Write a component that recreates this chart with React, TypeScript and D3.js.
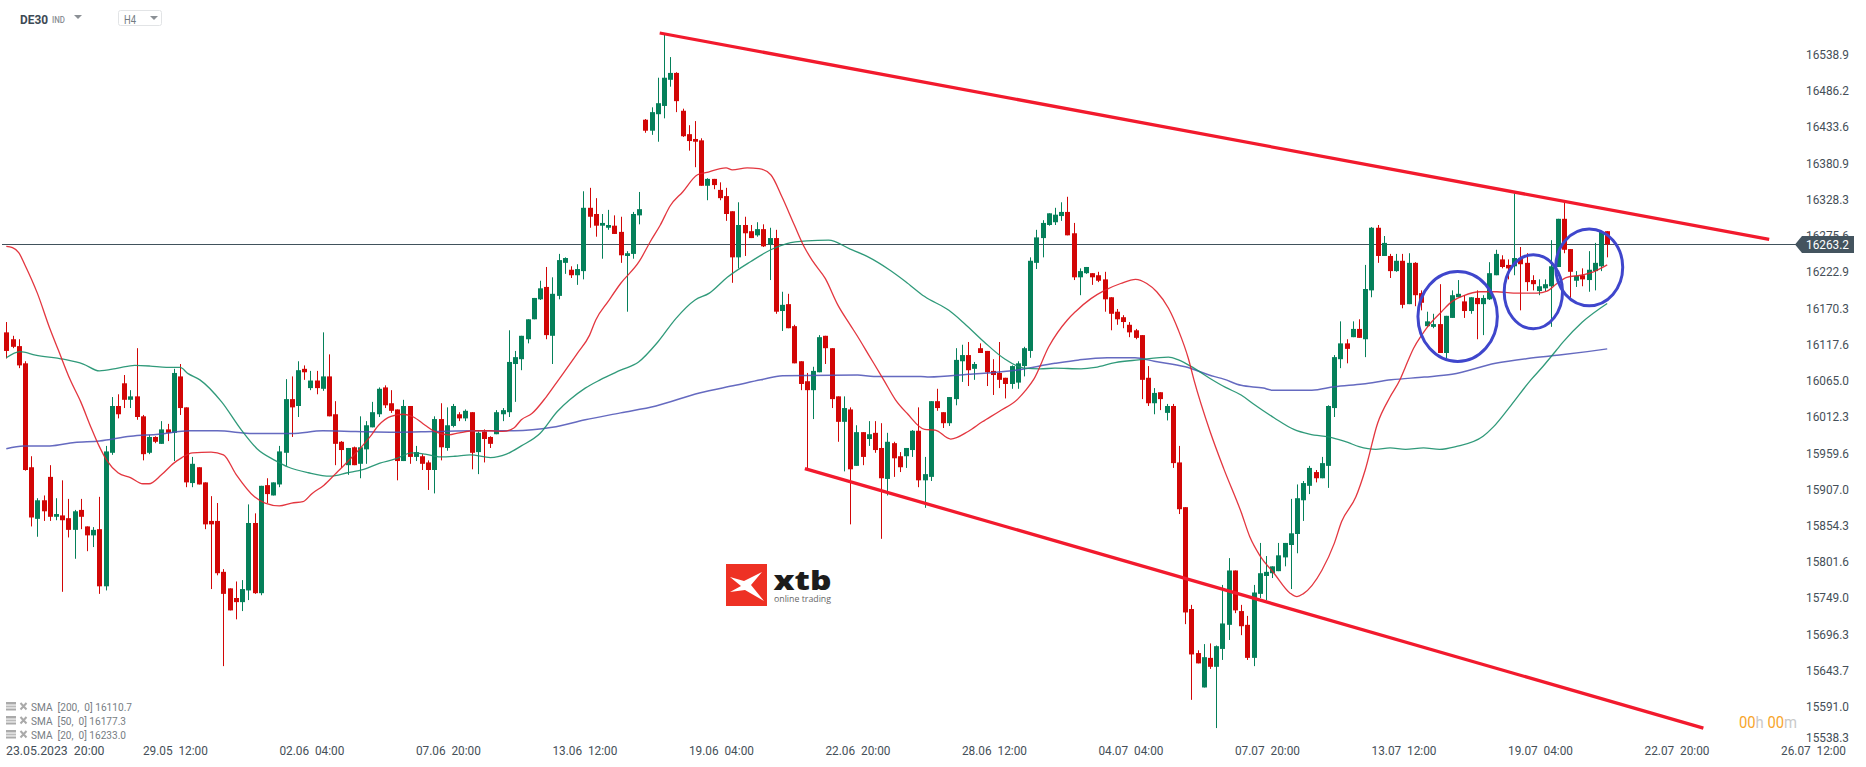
import React from 'react';
import * as d3 from 'd3';

const WIDTH = 1866;
const HEIGHT = 767;

// candle values
const directions =
  'rrrrrgrrgr' + 'rgrrgrggrr' + 'grrgrgrgrr' + 'grrrrrrrgg' + 'rgrgggrgrg' + 'rgrrrgrggg' +
  'grrrgrgrrg' + 'rggrgrgrrg' + 'gggggggrgg' + 'grggrrggrr' + 'gggrggggrr' + 'rrrgrrrrgr' +
  'rgrgrgrrrr' + 'ggrrrgrgrg' + 'rrgrrggrgg' + 'rrgggrgrrr' + 'rrgggggggg' + 'grrggrrrrr' +
  'rrrrrgrgrr' + 'rrrgrgggrr' + 'rggggggggg' + 'grggggrgrg' + 'grgrgrgrrg' + 'grgggrgrgg' +
  'grrgrrrggg' + 'grrgrgggr';

const highs = [
  16150,16130,16125,16093,15955,15894,15898,15942,15894,15920,
  15893,15877,15893,15853,15852,15896,15970,16041,16045,16073,
  16051,16112,16015,15986,15984,16006,16002,16082,16089,16026,
  15954,15939,15917,15897,15887,15791,15763,15773,15775,15885,
  15872,15912,15923,15917,15970,16067,16071,16093,16087,16079,
  16079,16135,16103,16035,15977,15967,15969,16013,16006,16034,
  16055,16058,16051,16023,16037,16028,15970,15958,15949,16013,
  16032,16026,16031,16019,16023,16019,15991,15994,15984,16022,
  16025,16138,16108,16130,16154,16185,16210,16230,16215,16249,
  16244,16231,16234,16340,16345,16330,16307,16313,16305,16303,
  16253,16310,16339,16445,16462,16505,16570,16535,16513,16460,
  16436,16442,16417,16359,16358,16353,16345,16311,16324,16303,
  16291,16295,16292,16287,16284,16194,16191,16146,16093,16076,
  16085,16131,16130,16112,16042,16042,16026,16000,15990,16006,
  16006,16003,15989,15976,15961,15967,15993,16026,15954,16035,
  16053,16019,16041,16112,16117,16121,16092,16119,16108,16096,
  16121,16069,16087,16093,16114,16244,16284,16298,16308,16316,
  16324,16332,16294,16228,16230,16221,16223,16223,16186,16169,
  16160,16150,16140,16131,16086,16054,16048,16031,16031,15970,
  15881,15739,15673,15682,15683,15680,15768,15807,15789,15739,
  15723,15768,15829,15810,15795,15829,15829,15893,15914,15919,
  15941,15935,15954,16029,16102,16151,16125,16151,16154,16233,
  16288,16291,16275,16249,16249,16249,16250,16237,16196,16165,
  16162,16205,16159,16196,16211,16189,16186,16196,16189,16237,
  16255,16247,16241,16337,16259,16250,16218,16212,16212,16269,
  16300,16325,16256,16224,16228,16253,16265,16281,16282,
];

const lows = [
  16097,16112,16083,15934,15853,15838,15861,15861,15862,15758,
  15837,15806,15849,15817,15823,15755,15760,15957,16010,16025,
  16025,16008,15949,15958,15974,15973,15977,15948,16015,15910,
  15910,15914,15849,15762,15782,15650,15731,15718,15730,15746,
  15755,15753,15887,15898,15910,15941,15983,16012,16066,16051,
  16045,16050,16013,15942,15938,15928,15942,15923,15944,15997,
  16012,16025,16018,15920,15948,15944,15948,15935,15906,15901,
  15949,15963,15997,16006,16006,15936,15929,15946,15967,15987,
  16006,16012,16034,16080,16119,16154,16182,16125,16089,16183,
  16220,16214,16204,16212,16287,16274,16242,16284,16278,16236,
  16165,16242,16292,16425,16422,16412,16446,16492,16455,16419,
  16399,16375,16348,16327,16343,16327,16297,16207,16228,16246,
  16272,16274,16259,16211,16162,16137,16141,16090,16051,15937,
  16009,16077,16089,16025,15976,15933,15856,15941,15942,15970,
  15960,15835,15898,15925,15932,15938,15954,15910,15880,15919,
  16021,15996,15999,16029,16063,16057,16066,16105,16057,16044,
  16054,16039,16053,16053,16071,16098,16227,16244,16290,16291,
  16297,16276,16211,16189,16220,16204,16208,16165,16138,16146,
  16141,16128,16125,16038,16028,16016,16022,16007,15938,15871,
  15711,15601,15654,15619,15646,15560,15659,15688,15727,15695,
  15659,15650,15749,15746,15778,15788,15795,15762,15814,15861,
  15900,15917,15923,15909,16012,16083,16090,16128,16127,16099,
  16186,16236,16246,16214,16223,16170,16176,16173,16167,16143,
  16141,16105,16097,16156,16186,16156,16162,16125,16131,16182,
  16218,16228,16212,16218,16167,16195,16196,16189,16195,16143,
  16230,16250,16185,16201,16202,16194,16196,16224,16244,
];

const bodyTops = [
  16135,16125,16115,16090,15939,15891,15891,15925,15871,15869,
  15865,15875,15877,15853,15848,15849,15962,16028,16028,16061,
  16042,16042,16013,15983,15983,15994,15994,16076,16071,16026,
  15944,15939,15917,15861,15861,15787,15763,15749,15762,15858,
  15858,15912,15913,15917,15962,16038,16038,16080,16082,16065,
  16065,16071,16071,16016,15976,15967,15968,15968,16000,16019,
  16053,16055,16032,16023,16028,16028,15961,15955,15946,16009,
  16009,16000,16028,16016,16021,16019,15989,15991,15983,16019,
  16022,16092,16099,16130,16154,16185,16199,16201,16191,16240,
  16243,16226,16227,16316,16316,16307,16294,16291,16290,16281,
  16250,16307,16314,16444,16455,16468,16505,16512,16512,16457,
  16423,16416,16414,16358,16358,16342,16333,16311,16291,16291,
  16282,16285,16285,16272,16272,16175,16176,16144,16093,16064,
  16079,16128,16130,16112,16042,16025,16023,15990,15990,15987,
  15989,15967,15976,15974,15955,15967,15992,15992,15929,16035,
  16035,16019,16041,16095,16102,16102,16089,16112,16108,16079,
  16076,16069,16086,16090,16112,16239,16273,16294,16308,16306,
  16310,16310,16279,16224,16230,16221,16218,16212,16186,16165,
  16157,16146,16138,16131,16069,16047,16048,16028,16028,15946,
  15881,15733,15669,15663,15662,15679,15712,15789,15789,15730,
  15710,15757,15785,15787,15795,15811,15829,15843,15894,15916,
  15938,15932,15945,16028,16099,16119,16119,16140,16140,16198,
  16287,16287,16265,16246,16239,16239,16236,16236,16192,16151,
  16147,16147,16159,16189,16191,16180,16186,16185,16185,16221,
  16249,16241,16233,16243,16243,16236,16211,16202,16205,16231,
  16300,16300,16256,16217,16218,16226,16236,16281,16282,
];

const bodyBottoms = [
  16108,16114,16087,15935,15866,15864,15875,15867,15867,15862,
  15848,15848,15867,15840,15840,15766,15766,15960,16016,16037,
  16037,16012,15958,15960,15976,15973,15989,15989,16025,15917,
  15916,15914,15856,15856,15785,15755,15731,15743,15743,15760,
  15756,15756,15900,15898,15914,15960,16026,16028,16077,16054,
  16054,16053,16013,15973,15964,15942,15942,15944,15965,15997,
  16016,16029,16021,15948,15948,15954,15954,15944,15935,15935,
  15968,15967,15999,16010,16010,15960,15961,15980,15973,15987,
  16016,16019,16089,16096,16125,16154,16183,16131,16130,16188,
  16236,16218,16218,16224,16303,16290,16290,16287,16278,16247,
  16246,16249,16305,16428,16428,16452,16464,16502,16471,16420,
  16413,16412,16348,16348,16349,16330,16307,16244,16244,16279,
  16272,16276,16260,16263,16165,16166,16141,16090,16060,16051,
  16051,16077,16112,16038,16005,16005,15936,15941,15954,15980,
  15964,15923,15922,15952,15939,15955,15964,15920,15920,15925,
  16025,16003,16003,16038,16093,16080,16082,16105,16077,16073,
  16066,16060,16060,16062,16086,16108,16236,16272,16291,16295,
  16304,16276,16215,16215,16221,16215,16210,16183,16162,16154,
  16150,16135,16127,16066,16032,16032,16038,16018,15945,15878,
  15728,15667,15654,15619,15649,15649,15675,15710,15731,15708,
  15662,15662,15755,15781,15785,15788,15808,15826,15842,15891,
  15912,15923,15923,15941,16025,16096,16111,16128,16127,16125,
  16196,16246,16246,16224,16224,16175,16176,16189,16178,16144,
  16143,16105,16105,16156,16186,16166,16166,16176,16176,16183,
  16218,16230,16228,16231,16234,16208,16205,16195,16199,16202,
  16230,16255,16223,16210,16212,16211,16224,16231,16263,
];

// moving averages: candle position / price pairs
const sma20Pos = [0,1,2,3,5,7,8.4,10.3,12,13.6,15,16.2,18,20,22,23,25,27,28.3,30,33,35,37,40,41.7,44,46,47.8,49.3,51.2,53,55,57,58.6,60,62,64,65.6,67.5,69,71.3,73,75.5,78,80,81.8,83,84.7,87,89,92,94,95,97,99,102,103.8,105.4,107,109,111.4,112.7,116,117,119.4,121.3,123.2,125,127,128.6,130,132,134,136,137.2,139,141.4,143.3,145.2,148,149.7,152.2,155,157.3,160,163,164.3,165.6,168,171,172.3,174.8,177,179.6,182,183.8,185.4,187.3,188.9,190.5,191.4,194,196.2,199,200.4,202,204.3,206.9,208,209,212,214,215.2,217.5,219,221,223,224.6,225.4,226.8,228.1,229.5,231.3,233,234.8,237.5,240.2,242.9,246.7,248.3,249.9,251.5,253.7,255.8,258];
const sma20Val = [16260,16258,16251,16233,16192,16141,16109,16066,16034,15998,15969,15949,15931,15924,15915,15915,15928,15945,15953,15960,15961,15957,15929,15896,15887,15883,15887,15889,15901,15913,15929,15947,15966,15983,16000,16013,16016,16012,16000,15991,15986,15989,15992,15992,15991,15996,16008,16017,16041,16066,16104,16131,16153,16180,16206,16238,16267,16291,16319,16339,16364,16367,16374,16371,16374,16373,16364,16332,16291,16259,16238,16213,16175,16146,16129,16102,16066,16037,16017,15994,15993,15980,15991,16005,16020,16038,16051,16067,16114,16153,16165,16184,16196,16206,16212,16206,16194,16170,16138,16097,16066,15991,15937,15874,15838,15811,15785,15756,15751,15755,15789,15828,15860,15896,15935,16003,16041,16066,16083,16112,16131,16148,16165,16180,16188,16194,16194,16192,16192,16195,16206,16215,16218,16223,16233];

const sma50Pos = [0,2.2,4.7,9.2,12.4,15,18,20.7,23.2,25.8,28,29.3,31.2,34.7,37.9,40.4,43.3,45.5,48.7,52.2,55,57.6,60.2,62.7,65.3,67.5,70,72.3,74.8,78,80.6,83,86,88.8,90.8,93.3,95.7,99,101.9,105,107.9,111,113.3,116.2,120,123.2,125.8,129,132.5,136,138.8,142.3,144.9,148,151.9,154.4,157.6,160.8,164,166.6,169,173.2,175.5,178.7,182.5,187.3,188.9,191.4,194,196.5,199,201,204.3,207.5,210,213.6,216.2,218,220.7,223,225.5,228.4,231,233.6,238,239.7,242.5,245.7,247.6,249.8,250.8,254,258];
const sma50Val = [16098,16107,16102,16096,16089,16079,16083,16087,16086,16084,16084,16075,16066,16034,15993,15966,15949,15939,15931,15926,15931,15936,15945,15951,15960,15958,15954,15955,15957,15953,15958,15970,15988,16020,16037,16054,16066,16080,16092,16121,16155,16182,16192,16215,16238,16255,16264,16268,16269,16256,16245,16226,16209,16187,16167,16148,16121,16097,16083,16082,16083,16082,16084,16091,16095,16099,16095,16083,16068,16055,16044,16031,16011,15994,15987,15982,15975,15969,15965,15967,15965,15967,15965,15969,15984,15998,16029,16066,16085,16109,16120,16150,16177];

const sma200Pos = [0,2.8,7,11,15,20,24.5,29.6,34,39.8,46,51,56.3,62.7,69,75.5,81.8,88,93.3,99,104.7,111.7,117.5,121.6,125.1,137.2,139.8,147.4,148.7,155,162.7,169,172.9,177.4,181.9,185,190,194.6,196.2,199,202.6,204,210.4,214,218.6,223.2,228.5,233,240,245.2,250.3,254.8,258];
const sma200Val = [15966,15970,15970,15975,15977,15984,15987,15992,15992,15988,15988,15992,15991,15990,15991,15992,15992,15997,16008,16018,16028,16047,16058,16066,16072,16073,16071,16071,16070,16074,16080,16090,16095,16098,16098,16093,16085,16071,16067,16058,16054,16051,16051,16056,16060,16066,16070,16074,16090,16097,16102,16107,16111];

// drawings placed on the chart
const upperTrendPos = [105.3, 284.1];
const upperTrendVal = [16570, 16270];
const lowerTrendPos = [128.7, 273.5];
const lowerTrendVal = [15937, 15560];

const circlePos = [233.9, 246.1, 255.1];
const circleVal = [16158, 16194, 16229.5];
const circleRadiusPos = [6.4, 4.7, 5.4];
const circleRadiusVal = [65.4, 53.8, 55.7];

const lastPrice = 16263.2;

const priceTicks = [16538.9, 16486.2, 16433.6, 16380.9, 16328.3, 16275.6, 16222.9, 16170.3, 16117.6, 16065.0, 16012.3, 15959.6, 15907.0, 15854.3, 15801.6, 15749.0, 15696.3, 15643.7, 15591.0, 15538.3];

const firstDateLabel = '23.05.2023\u00a0\u00a020:00';
const dateLabels = ['29.05\u00a0\u00a012:00', '02.06\u00a0\u00a004:00', '07.06\u00a0\u00a020:00', '13.06\u00a0\u00a012:00', '19.06\u00a0\u00a004:00', '22.06\u00a0\u00a020:00', '28.06\u00a0\u00a012:00', '04.07\u00a0\u00a004:00', '07.07\u00a0\u00a020:00', '13.07\u00a0\u00a012:00', '19.07\u00a0\u00a004:00', '22.07\u00a0\u00a020:00', '26.07\u00a0\u00a012:00'];

const legendRows = ['SMA\u00a0\u00a0[200,\u00a0\u00a00]\u00a016110.7', 'SMA\u00a0\u00a0[50,\u00a0\u00a00]\u00a016177.3', 'SMA\u00a0\u00a0[20,\u00a0\u00a00]\u00a016233.0'];
const legendWidths = [101, 95, 95];

const UP = '#05805a';
const DOWN = '#d20606';
const TEXT = '#454f58';
const FONT = 'Roboto, sans-serif';

const x = d3.scaleLinear().domain([0, 258]).range([6.3, 1607.2]);
const y = d3.scaleLinear().domain([15538.3, 16538.9]).range([743, 54.4]);

const smaLine = (pos: number[], val: number[]) =>
  d3.line<number>()
    .x((d) => x(d))
    .y((_, i) => y(val[i]))
    .curve(d3.curveMonotoneX)(pos) as string;

const XtbMark = () => (
  <g>
    <rect x={726} y={564} width={41} height={42} fill="#ee3124" />
    <path d="M730 577 L744 581 L762 572 L751 585 L764 601 L745 590 L730 592 L741 586 Z" fill="#fff" />
    <text x={773.5} y={590} fontFamily="'Open Sans', sans-serif" fontWeight={800} fontSize={27} fill="#1c1c1c" textLength={58} lengthAdjust="spacingAndGlyphs">xtb</text>
    <text x={774} y={602} fontFamily="'Open Sans', sans-serif" fontSize={9.5} fill="#666" textLength={57} lengthAdjust="spacingAndGlyphs">online trading</text>
  </g>
);

const LegendIcon = ({ top }: { top: number }) => (
  <g>
    <rect x={6} y={top} width={10} height={2.5} fill="#aaa" />
    <rect x={6} y={top + 3.5} width={10} height={2} fill="#bbb" />
    <rect x={6} y={top + 6.5} width={10} height={2} fill="#aaa" />
    <path d={`M20.5 ${top + 1} L26.5 ${top + 7.5} M26.5 ${top + 1} L20.5 ${top + 7.5}`} stroke="#aaa" strokeWidth={2} />
  </g>
);

export default function App() {
  return (
    <svg width={WIDTH} height={HEIGHT} style={{ position: 'absolute', left: 0, top: 0, background: '#fff', display: 'block' }}>
      {/* header */}
      <text x={20} y={24} fontFamily={FONT} fontWeight={700} fontSize={13} fill="#3d4a54" textLength={28} lengthAdjust="spacingAndGlyphs">DE30</text>
      <text x={52} y={23} fontFamily={FONT} fontWeight={500} fontSize={8.5} fill="#8b9095" textLength={13} lengthAdjust="spacingAndGlyphs">IND</text>
      <path d="M74 15 L82 15 L78 19 Z" fill="#8b9095" />
      <rect x={118.5} y={10.5} width={43} height={15} rx={2} fill="#fff" stroke="#e2e4e6" />
      <text x={124} y={24} fontFamily={FONT} fontSize={12} fill="#737b82" textLength={12} lengthAdjust="spacingAndGlyphs">H4</text>
      <path d="M150 16 L158 16 L154 20 Z" fill="#8b9095" />

      <XtbMark />

      {/* price axis */}
      {priceTicks.map((t, i) => (
        <text key={t} x={1849} y={(i === priceTicks.length - 1 ? y(t) - 6 : y(t)) + 4.5} textAnchor="end" fontFamily={FONT} fontSize={13} fill={TEXT} textLength={43} lengthAdjust="spacingAndGlyphs">
          {t.toFixed(1)}
        </text>
      ))}

      {/* date axis */}
      <text x={6} y={755} fontFamily={FONT} fontSize={13} fill={TEXT} textLength={98.5} lengthAdjust="spacingAndGlyphs">{firstDateLabel}</text>
      {dateLabels.map((t, i) => (
        <text key={t} x={x(27.25 + i * 22) - 32.5} y={755} fontFamily={FONT} fontSize={13} fill={TEXT} textLength={65} lengthAdjust="spacingAndGlyphs">{t}</text>
      ))}

      {/* last price line, under the candles */}
      <line x1={2} x2={1796} y1={Math.round(y(lastPrice)) + 0.5} y2={Math.round(y(lastPrice)) + 0.5} stroke="#41525c" strokeWidth={1} />

      {/* candles */}
      {highs.map((h, i) => {
        const color = directions[i] === 'g' ? UP : DOWN;
        const cx = Math.round(x(i));
        return (
          <g key={i}>
            <line x1={cx + 0.5} x2={cx + 0.5} y1={y(h)} y2={y(lows[i])} stroke={color} strokeWidth={1} />
            <rect x={cx - 2} y={y(bodyTops[i])} width={5} height={Math.max(y(bodyBottoms[i]) - y(bodyTops[i]), 1)} fill={color} />
          </g>
        );
      })}

      {/* moving averages */}
      <path d={smaLine(sma200Pos, sma200Val)} fill="none" stroke="#4a50b5" strokeWidth={1.5} strokeOpacity={0.85} />
      <path d={smaLine(sma50Pos, sma50Val)} fill="none" stroke="#1a8f6b" strokeWidth={1.3} strokeOpacity={0.9} />
      <path d={smaLine(sma20Pos, sma20Val)} fill="none" stroke="#e0202a" strokeWidth={1.3} strokeOpacity={0.9} />

      {/* trend lines */}
      <line x1={x(upperTrendPos[0])} x2={x(upperTrendPos[1])} y1={y(upperTrendVal[0])} y2={y(upperTrendVal[1])} stroke="#f21a2d" strokeWidth={3.3} />
      <line x1={x(lowerTrendPos[0])} x2={x(lowerTrendPos[1])} y1={y(lowerTrendVal[0])} y2={y(lowerTrendVal[1])} stroke="#f21a2d" strokeWidth={3.3} />

      {/* circled zones */}
      {circlePos.map((p, i) => (
        <ellipse
          key={p}
          cx={x(p)}
          cy={y(circleVal[i])}
          rx={x(p + circleRadiusPos[i]) - x(p)}
          ry={y(circleVal[i] - circleRadiusVal[i]) - y(circleVal[i])}
          fill="none"
          stroke="#3f46cc"
          strokeWidth={3}
        />
      ))}

      {/* last price tag */}
      <path d="M1795 244.5 L1802 236 L1854 236 L1854 253 L1802 253 Z" fill="#44545f" />
      <text x={1849} y={249} textAnchor="end" fontFamily={FONT} fontSize={13} fill="#fff" textLength={43} lengthAdjust="spacingAndGlyphs">{lastPrice.toFixed(1)}</text>

      {/* bar countdown */}
      <text x={1739} y={727.5} fontFamily={FONT} fontSize={16} textLength={58} lengthAdjust="spacingAndGlyphs">
        <tspan fill="#f7a52b">00</tspan>
        <tspan fill="#c9c9c9">h </tspan>
        <tspan fill="#f7a52b">00</tspan>
        <tspan fill="#c9c9c9">m</tspan>
      </text>

      {/* indicator legend */}
      {legendRows.map((t, i) => (
        <g key={t}>
          <LegendIcon top={702 + i * 14} />
          <text x={31} y={711 + i * 14} fontFamily={FONT} fontSize={10.5} fill="#777d83" textLength={legendWidths[i]} lengthAdjust="spacingAndGlyphs">{t}</text>
        </g>
      ))}
    </svg>
  );
}
